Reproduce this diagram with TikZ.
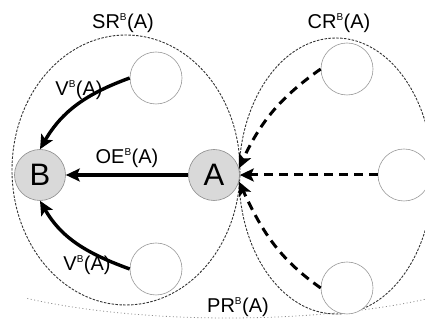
\documentclass[tikz,border=0pt]{standalone}
\usepackage{fontspec}
\setmainfont{Liberation Sans}
\usetikzlibrary{arrows.meta}
\begin{document}
\begin{tikzpicture}[x=1pt,y=1pt,
  setline/.style={draw=black!80, line width=0.9pt, dash pattern=on 2.5pt off 1.4pt},
  bignode/.style={circle, draw=black!45, fill=black!15, line width=0.6pt, minimum size=51pt, inner sep=0pt, font=\fontsize{31}{31}\selectfont},
  emptynode/.style={circle, draw=black!40, fill=white, line width=0.6pt, minimum size=52pt, inner sep=0pt},
  lab/.style={font=\fontsize{20}{20}\selectfont, inner sep=0pt},
  solidarr/.style={line width=3.4pt, -{Stealth[length=14pt,width=13pt,inset=3pt]}},
  dasharr/.style={line width=3pt, dash pattern=on 9pt off 6pt, -{Stealth[length=14pt,width=13pt,inset=3pt]}}
]
\newcommand{\supB}{\textsuperscript{\fontsize{10}{10}\selectfont B}}
\useasboundingbox (0,0) rectangle (425,320);
\begin{scope}
\clip (0,0) rectangle (425,320);
\draw[setline] (126,150) ellipse [x radius=114, y radius=135];
\draw[setline] (336,144) ellipse [x radius=97, y radius=138];
\draw[draw=black!45, line width=0.8pt, dash pattern=on 1pt off 2.5pt] (228,78) ++(228:300 and 76) arc [start angle=228, end angle=312, x radius=300, y radius=76];
\end{scope}
\node[bignode] (B) at (40,145) {B};
\node[bignode] (A) at (214,145) {A};
\node[emptynode] (c2) at (156,242) {};
\node[emptynode] (c1) at (156,51) {};
\node[emptynode] (c5) at (347,251) {};
\node[emptynode] (c4) at (404,145) {};
\node[emptynode] (c3) at (347,32) {};
\node[lab] (sr) at (123,297) {SR\supB(A)};
\node[lab] (cr) at (339,297) {CR\supB(A)};
\node[lab, fill=white, inner sep=1pt] (pr) at (238,13) {PR\supB(A)};
\node[lab] (oe) at (127,162) {OE\supB(A)};
\node[lab] (v1) at (79,230) {V\supB(A)};
\node[lab] (v2) at (87,55) {V\supB(A)};
\draw[solidarr] (c2.west) to[out=200, in=60] (B.north);
\draw[solidarr] (c1.west) to[out=160, in=-60] (B.south);
\draw[solidarr] (A.west) -- (B.east);
\draw[dasharr] (c5.west) to[out=215, in=65] (A.15);
\draw[dasharr] (c4.west) -- (A.east);
\draw[dasharr] (c3.west) to[out=145, in=-65] (A.-15);
\end{tikzpicture}
\end{document}
